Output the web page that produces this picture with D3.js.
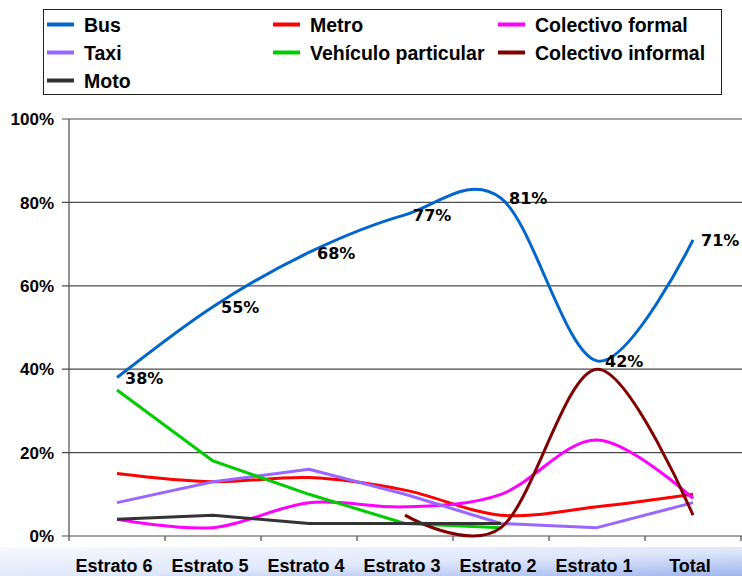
<!DOCTYPE html>
<html>
<head>
<meta charset="utf-8">
<script src="https://cdn.jsdelivr.net/npm/d3@7"></script>
<style>
  body { margin: 0; background: #fff; }
  svg { display: block; }
</style>
</head>
<body>
<div id="chart"></div>
<script>
// data
const categories = ['Estrato 6', 'Estrato 5', 'Estrato 4', 'Estrato 3', 'Estrato 2', 'Estrato 1', 'Total'];
const bus = [38, 55, 68, 77, 81, 42, 71];
const metro = [15, 13, 14, 11, 5, 7, 10];
const colectivoFormal = [4, 2, 8, 7, 10, 23, 9];
const taxi = [8, 13, 16, 10, 3, 2, 8];
const vehiculo = [35, 18, 10, 3, 2, null, null];
const colectivoInformal = [null, null, null, 5, 2, 40, 5];
const moto = [4, 5, 3, 3, 3, null, null];
const yTicks = [0, 20, 40, 60, 80, 100];

const series = [
  { name: 'Bus', values: bus, color: '#0066cc', smooth: true },
  { name: 'Metro', values: metro, color: '#ff0000', smooth: true },
  { name: 'Colectivo formal', values: colectivoFormal, color: '#ff00ff', smooth: true },
  { name: 'Taxi', values: taxi, color: '#9966ff', smooth: false },
  { name: 'Vehículo particular', values: vehiculo, color: '#00cc00', smooth: false },
  { name: 'Colectivo informal', values: colectivoInformal, color: '#800000', smooth: true },
  { name: 'Moto', values: moto, color: '#333333', smooth: false }
];

const width = 742;
const height = 576;
const margin = { top: 119, right: 1, bottom: 40, left: 69 };

const svg = d3.select('#chart')
  .append('svg')
  .attr('width', width)
  .attr('height', height);

// achtergrond onder de as (licht blauw verloop)
const defs = svg.append('defs');
const grad = defs.append('linearGradient')
  .attr('id', 'strip')
  .attr('x1', '0%').attr('y1', '0%')
  .attr('x2', '100%').attr('y2', '100%');
grad.append('stop').attr('offset', '0%').attr('stop-color', '#f7f9fe');
grad.append('stop').attr('offset', '55%').attr('stop-color', '#dfe7fa');
grad.append('stop').attr('offset', '100%').attr('stop-color', '#9fb6ee');

svg.append('rect')
  .attr('x', 0).attr('y', 547)
  .attr('width', width).attr('height', height - 547)
  .attr('fill', 'url(#strip)');

const x = d3.scaleBand()
  .domain(categories)
  .range([margin.left, width - margin.right])
  .padding(0);

const y = d3.scaleLinear()
  .domain([0, 100])
  .range([height - margin.bottom, margin.top]);

const cx = c => x(c) + x.bandwidth() / 2;

// gridlijnen
svg.append('g')
  .selectAll('line')
  .data(yTicks)
  .join('line')
  .attr('x1', margin.left - 7)
  .attr('x2', width)
  .attr('y1', d => y(d))
  .attr('y2', d => y(d))
  .attr('stroke', '#4a4a4a')
  .attr('stroke-width', 1.2);

// y-as
svg.append('line')
  .attr('x1', margin.left).attr('x2', margin.left)
  .attr('y1', y(100)).attr('y2', y(0) + 5)
  .attr('stroke', '#4a4a4a')
  .attr('stroke-width', 1.2);

svg.append('g')
  .selectAll('text')
  .data(yTicks)
  .join('text')
  .attr('x', 54)
  .attr('y', d => y(d))
  .attr('dy', '0.36em')
  .attr('text-anchor', 'end')
  .style('font', 'bold 17px "Liberation Sans", Arial, sans-serif')
  .text(d => d + '%');

// x-as ticks tussen de categorieen
svg.append('g')
  .selectAll('line')
  .data(categories.slice(1).map(c => x(c)).concat([x.range()[1]]))
  .join('line')
  .attr('x1', d => d).attr('x2', d => d)
  .attr('y1', y(0)).attr('y2', y(0) + 5)
  .attr('stroke', '#4a4a4a')
  .attr('stroke-width', 1.2);

svg.append('g')
  .selectAll('text')
  .data(categories)
  .join('text')
  .attr('x', d => cx(d) - 3)
  .attr('y', 572)
  .attr('text-anchor', 'middle')
  .style('font', 'bold 18px "Liberation Sans", Arial, sans-serif')
  .text(d => d);

// lijnen
series.forEach(s => {
  const line = d3.line()
    .defined(d => d.v != null)
    .x(d => cx(d.c))
    .y(d => y(d.v))
    .curve(s.smooth ? d3.curveCardinal.tension(0) : d3.curveLinear);
  svg.append('path')
    .datum(categories.map((c, i) => ({ c: c, v: s.values[i] })))
    .attr('d', line)
    .attr('fill', 'none')
    .attr('stroke', s.color)
    .attr('stroke-width', 3)
    .attr('stroke-linejoin', 'round');
});

// labels bij bus
svg.append('g')
  .selectAll('text')
  .data(categories.map((c, i) => ({ c: c, v: bus[i] })))
  .join('text')
  .attr('x', d => cx(d.c) + 8)
  .attr('y', d => y(d.v))
  .attr('dy', '0.38em')
  .style('font', 'bold 16px "DejaVu Sans", Verdana, sans-serif')
  .text(d => d.v + '%');

// legenda
const legend = svg.append('g');
legend.append('rect')
  .attr('x', 43.5).attr('y', 9.5)
  .attr('width', 678).attr('height', 85)
  .attr('fill', '#fff')
  .attr('stroke', '#222')
  .attr('stroke-width', 1);

const colX = [47, 273, 498];
const rowY = [24.5, 52.5, 80.5];
const items = legend.selectAll('g.item')
  .data(series)
  .join('g')
  .attr('class', 'item')
  .attr('transform', (d, i) => `translate(${colX[i % 3]},${rowY[Math.floor(i / 3)]})`);

items.append('line')
  .attr('x1', 0).attr('x2', 27)
  .attr('stroke', d => d.color)
  .attr('stroke-width', 4);

items.append('text')
  .attr('x', 37)
  .attr('dy', '0.36em')
  .style('font', 'bold 19.5px "Liberation Sans", Arial, sans-serif')
  .text(d => d.name);
</script>
</body>
</html>
